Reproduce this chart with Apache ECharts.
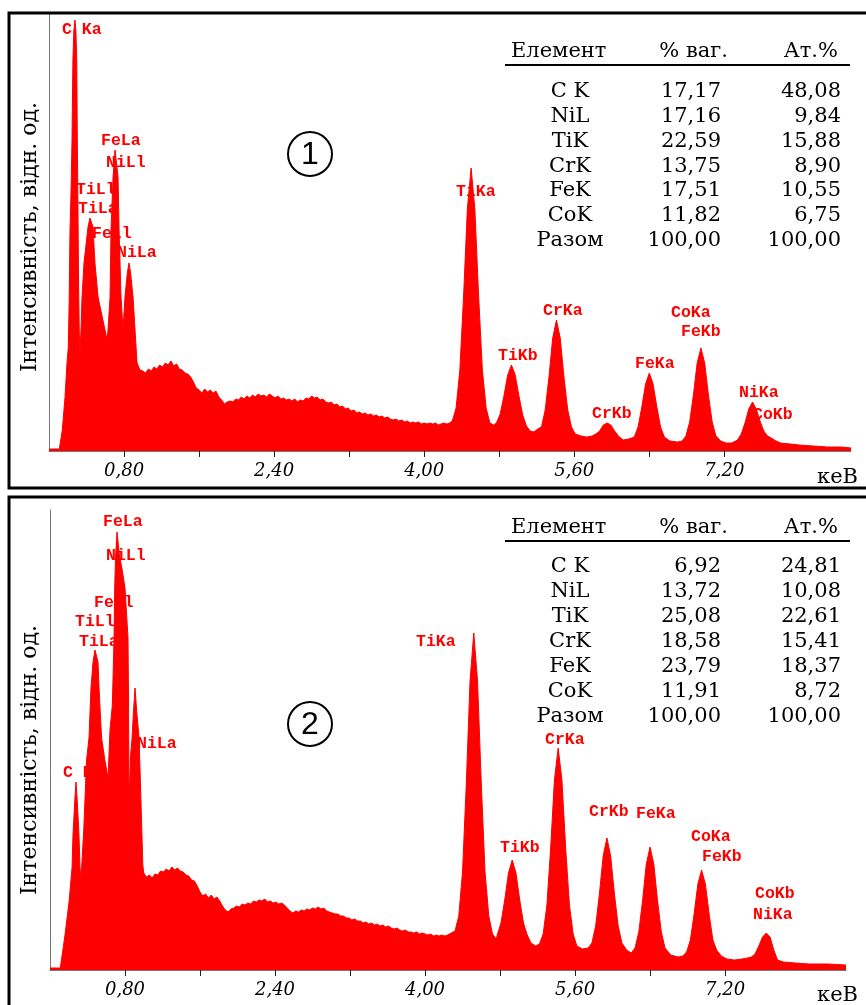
<!DOCTYPE html>
<html>
<head>
<meta charset="utf-8">
<script src="https://cdn.jsdelivr.net/npm/echarts@6.0.0/dist/echarts.min.js"></script>
<style>
html,body{margin:0;padding:0;background:#fff;}
#chart{width:866px;height:1005px;}
</style>
</head>
<body>
<div id="chart"></div>
<script>
// ---------- DATA ----------
// Spectrum 1: [energy keV, intensity (rel. units)]
const spectrum1 = [[0,2],[0.11,2],[0.13,4],[0.142,21],[0.171,54],[0.192,88],[0.206,104],[0.215,150],[0.224,221],[0.235,260],[0.245,308],[0.255,391],[0.265,420],[0.277,431],[0.287,420],[0.296,391],[0.302,308],[0.309,241],[0.315,170],[0.322,120],[0.33,98],[0.341,121],[0.352,154],[0.373,188],[0.416,224],[0.437,233],[0.469,224],[0.49,188],[0.523,154],[0.597,121],[0.62,111],[0.629,121],[0.651,154],[0.661,221],[0.683,274],[0.704,301],[0.736,274],[0.747,221],[0.768,154],[0.789,121],[0.80,121],[0.81,154],[0.835,178],[0.853,188],[0.87,178],[0.896,154],[0.917,121],[0.928,104],[0.939,88],[0.97,81],
[1.00,80],[1.03,78],[1.06,82],[1.09,80],[1.12,84],[1.15,82],[1.18,86],[1.21,84],[1.24,88],[1.27,86],[1.30,90],[1.33,85],[1.36,87],[1.39,82],[1.42,81],[1.45,78],[1.48,77],[1.51,74],[1.54,69],[1.57,63],[1.60,61],[1.63,58],[1.66,62],[1.69,59],[1.72,61],[1.75,58],[1.78,60],[1.81,54],[1.84,51],[1.87,47],[1.90,49],[1.93,50],[1.96,49],[1.99,52],[2.02,51],[2.05,54],[2.08,52],[2.11,55],[2.14,53],[2.17,56],[2.20,54],[2.23,57],[2.26,55],[2.29,56],[2.32,54],[2.35,57],[2.38,55],[2.41,53],[2.44,55],[2.47,52],[2.50,53],[2.53,51],[2.56,52],[2.59,50],[2.62,52],[2.65,49],[2.68,51],[2.71,50],[2.74,53],[2.77,52],[2.80,55],[2.83,53],[2.86,54],[2.89,51],[2.92,52],[2.95,49],[2.98,48],[3.01,49],[3.04,46],[3.07,47],[3.10,44],[3.13,45],[3.16,42],[3.19,43],[3.22,40],[3.25,41],[3.28,38],[3.31,39],[3.34,37],[3.37,38],[3.40,36],[3.43,37],[3.46,35],[3.49,36],[3.52,34],[3.55,35],[3.58,33],[3.61,34],[3.64,32],[3.67,31],[3.70,32],[3.73,30],[3.76,31],[3.79,29],[3.82,30],[3.85,28],[3.88,29],[3.91,28],[3.94,29],[3.97,27],[4.00,28],[4.03,27],[4.06,28],[4.09,27],[4.12,28],[4.15,26],[4.18,27],[4.21,28],[4.24,27],[4.27,28],[4.30,30],
[4.34,43],[4.38,81],[4.42,155],[4.46,242],[4.50,283],[4.54,242],[4.58,155],[4.62,81],[4.66,43],[4.70,28],[4.74,26],[4.77,28],[4.81,37],[4.85,55],[4.89,76],[4.93,86],[4.97,76],[5.01,55],[5.05,36],[5.09,25],[5.13,20],[5.17,19],[5.21,22],[5.25,24],[5.29,41],[5.33,74],[5.37,113],[5.41,131],[5.45,113],[5.49,74],[5.53,41],[5.57,24],[5.61,17],[5.67,15],[5.73,14],[5.79,15],[5.83,17],[5.87,20],[5.91,26],[5.95,28],[5.99,26],[6.03,20],[6.07,15],[6.12,11],[6.18,12],[6.24,14],[6.28,24],[6.32,44],[6.36,67],[6.40,78],[6.44,67],[6.48,44],[6.52,24],[6.56,14],[6.62,10],[6.70,9],[6.75,10],[6.79,15],[6.83,29],[6.87,56],[6.91,88],[6.95,103],[6.99,88],[7.03,56],[7.07,29],[7.11,15],[7.16,10],[7.22,8],[7.28,8],[7.34,11],[7.38,17],[7.42,28],[7.46,42],[7.50,49],[7.54,42],[7.58,30],[7.62,20],[7.66,15],[7.70,13],[7.75,10],[7.80,8],[7.90,7],[8.00,6],[8.15,5],[8.30,4],[8.45,4],[8.55,3]];

// Spectrum 2
const spectrum2 = [[0,2],[0.11,2],[0.13,4],[0.16,35],[0.203,68],[0.235,102],[0.245,135],[0.265,170],[0.277,188],[0.29,170],[0.309,135],[0.32,102],[0.331,92],[0.36,140],[0.39,210],[0.416,232],[0.437,282],[0.459,308],[0.48,320],[0.512,308],[0.523,282],[0.55,232],[0.585,210],[0.619,192],[0.64,240],[0.665,265],[0.683,332],[0.69,382],[0.70,415],[0.715,438],[0.74,415],[0.77,400],[0.80,382],[0.832,332],[0.838,265],[0.843,170],[0.86,215],[0.875,232],[0.89,258],[0.907,282],[0.925,258],[0.95,232],[0.97,170],[0.99,105],
[1.00,97],[1.03,93],[1.06,95],[1.09,92],[1.12,96],[1.15,95],[1.18,99],[1.21,98],[1.24,101],[1.27,99],[1.30,103],[1.33,100],[1.36,102],[1.39,99],[1.42,98],[1.45,95],[1.48,94],[1.51,90],[1.54,89],[1.57,84],[1.60,78],[1.63,74],[1.66,76],[1.69,72],[1.72,75],[1.75,71],[1.78,73],[1.81,69],[1.84,64],[1.87,60],[1.90,58],[1.93,61],[1.96,62],[1.99,64],[2.02,63],[2.05,66],[2.08,65],[2.11,67],[2.14,66],[2.17,69],[2.20,68],[2.23,70],[2.26,69],[2.29,71],[2.32,68],[2.35,69],[2.38,67],[2.41,68],[2.44,66],[2.47,67],[2.50,65],[2.53,62],[2.56,59],[2.59,57],[2.62,59],[2.65,58],[2.68,60],[2.71,59],[2.74,61],[2.77,60],[2.80,62],[2.83,61],[2.86,63],[2.89,61],[2.92,62],[2.95,59],[2.98,58],[3.01,57],[3.04,56],[3.07,56],[3.10,54],[3.13,54],[3.16,52],[3.19,52],[3.22,50],[3.25,51],[3.28,49],[3.31,49],[3.34,47],[3.37,48],[3.40,46],[3.43,47],[3.46,45],[3.49,46],[3.52,44],[3.55,45],[3.58,43],[3.61,44],[3.64,42],[3.67,41],[3.70,42],[3.73,40],[3.76,39],[3.79,40],[3.82,38],[3.85,38],[3.88,37],[3.91,38],[3.94,36],[3.97,37],[4.00,36],[4.03,35],[4.06,36],[4.09,34],[4.12,35],[4.15,34],[4.18,35],[4.21,34],[4.24,35],[4.28,37],[4.32,39],
[4.36,54],[4.40,98],[4.44,186],[4.48,289],[4.52,337],[4.56,289],[4.60,186],[4.64,98],[4.68,54],[4.72,36],[4.76,31],[4.77,35],[4.81,47],[4.85,70],[4.89,97],[4.93,110],[4.97,97],[5.01,70],[5.05,47],[5.09,35],[5.13,27],[5.18,24],[5.22,26],[5.26,36],[5.30,65],[5.34,122],[5.38,190],[5.42,222],[5.46,190],[5.50,122],[5.54,65],[5.58,36],[5.62,24],[5.68,21],[5.74,22],[5.78,27],[5.82,44],[5.86,76],[5.90,114],[5.94,132],[5.98,114],[6.02,76],[6.06,44],[6.10,27],[6.15,20],[6.20,17],[6.24,22],[6.28,38],[6.32,69],[6.36,106],[6.40,123],[6.44,106],[6.48,69],[6.52,38],[6.56,22],[6.62,15],[6.70,13],[6.75,14],[6.79,18],[6.83,30],[6.87,56],[6.91,86],[6.95,100],[6.99,86],[7.03,56],[7.07,30],[7.11,20],[7.16,14],[7.22,11],[7.30,10],[7.38,11],[7.44,12],[7.48,13],[7.52,16],[7.56,24],[7.60,33],[7.64,37],[7.68,33],[7.72,20],[7.76,10],[7.82,8],[7.95,7],[8.10,6],[8.30,6],[8.49,5]];

const tickValues = [0.8, 1.6, 2.4, 3.2, 4.0, 4.8, 5.6, 6.4, 7.2];
const tickLabels = [0.8, 2.4, 4.0, 5.6, 7.2];
const xUnit = 'кеВ';
const yTitle = 'Інтенсивність, відн. од.';

const peakNames1 = ['C Ka','FeLa','NiLl','TiLl','TiLa','FeLl','NiLa','TiKa','TiKb','CrKa','CrKb','FeKa','CoKa','FeKb','NiKa','CoKb'];
const peakNames2 = ['FeLa','NiLl','FeLl','TiLl','TiLa','NiLa','C Ka','TiKa','CrKa','TiKb','CrKb','FeKa','CoKa','FeKb','CoKb','NiKa'];

const tableHeader = ['Елемент', '% ваг.', 'Ат.%'];
const elements = ['C K', 'NiL', 'TiK', 'CrK', 'FeK', 'CoK', 'Разом'];
const wt1 = ['17,17', '17,16', '22,59', '13,75', '17,51', '11,82', '100,00'];
const at1 = ['48,08', '9,84', '15,88', '8,90', '10,55', '6,75', '100,00'];
const wt2 = ['6,92', '13,72', '25,08', '18,58', '23,79', '11,91', '100,00'];
const at2 = ['24,81', '10,08', '22,61', '15,41', '18,37', '8,72', '100,00'];
const panelNumbers = ['1', '2'];

// ---------- LAYOUT (pixel positions of annotations) ----------
const peakPos1 = [[62,30],[101,141],[106,163],[76,190],[78,209],[92,234],[117,253],[456,192],[498,356],[543,311],[592,414],[635,364],[671,313],[681,332],[739,393],[753,415]];
const peakPos2 = [[103,522],[106,556],[94,603],[75,622],[79,642],[137,744],[63,773],[416,642],[545,740],[500,848],[589,812],[636,814],[691,837],[702,857],[755,894],[753,915]];

const chart = echarts.init(document.getElementById('chart'), null, {renderer: 'canvas'});

const RED = '#ff0000';
const serif = '"DejaVu Serif", "Liberation Serif", serif';
const mono = '"Liberation Mono", "Courier New", monospace';

function xAxisCfg(gi, max) {
  return {
    gridIndex: gi, type: 'value', min: 0, max: max, interval: 0.8,
    axisLine: {show: true, onZero: false, lineStyle: {color: '#777', width: 1}},
    axisTick: {show: true, length: 6, customValues: tickValues, lineStyle: {color: '#222', width: 1}},
    axisLabel: {
      customValues: tickLabels, margin: 11,
      formatter: v => v.toFixed(2).replace('.', ','),
      fontFamily: serif, fontStyle: 'italic', fontSize: 18, color: '#000'
    },
    splitLine: {show: false}
  };
}
function yAxisCfg(gi, max) {
  return {
    gridIndex: gi, type: 'value', min: 0, max: max,
    axisLine: {show: true, lineStyle: {color: '#777', width: 1}},
    axisTick: {show: false}, axisLabel: {show: false}, splitLine: {show: false}
  };
}
function seriesCfg(i, data) {
  return {
    type: 'line', xAxisIndex: i, yAxisIndex: i, data: data,
    showSymbol: false, symbol: 'none', smooth: false, z: 3,
    lineStyle: {color: RED, width: 1},
    areaStyle: {color: RED, opacity: 1},
    silent: true
  };
}

const graphics = [];
// frames
graphics.push({type: 'rect', shape: {x: 9, y: 13, width: 870, height: 475}, style: {fill: null, stroke: '#000', lineWidth: 3}, z: 10});
graphics.push({type: 'rect', shape: {x: 9, y: 497, width: 870, height: 520}, style: {fill: null, stroke: '#000', lineWidth: 3}, z: 10});

function txt(x, y, text, font, fill, align, valign, extra) {
  return Object.assign({type: 'text', x: x, y: y, z: 1,
    style: {text: text, font: font, fill: fill, textAlign: align || 'left', textVerticalAlign: valign || 'middle'}}, extra || {});
}

// peak labels (drawn beneath the spectrum)
peakNames1.forEach((n, i) => graphics.push(txt(peakPos1[i][0], peakPos1[i][1], n, 'bold 16.5px ' + mono, RED)));
peakNames2.forEach((n, i) => graphics.push(txt(peakPos2[i][0], peakPos2[i][1], n, 'bold 16.5px ' + mono, RED)));

// axis titles
graphics.push(txt(30, 237, yTitle, '22px ' + serif, '#000', 'center', 'middle', {rotation: Math.PI / 2}));
graphics.push(txt(30, 760, yTitle, '22px ' + serif, '#000', 'center', 'middle', {rotation: Math.PI / 2}));
graphics.push(txt(858, 478, xUnit, '21px ' + serif, '#000', 'right'));
graphics.push(txt(858, 996, xUnit, '21px ' + serif, '#000', 'right'));

// circled numbers
[[310, 154], [310, 724]].forEach((c, i) => {
  graphics.push({type: 'circle', shape: {cx: c[0], cy: c[1], r: 22}, style: {fill: null, stroke: '#000', lineWidth: 2}, z: 5});
  graphics.push(txt(c[0], c[1] + 1, panelNumbers[i], '32px "Liberation Sans", Arial, sans-serif', '#000', 'center', 'middle', {z: 5}));
});

// tables
function table(headY, lineY, rowY0, rowStep, wt, at) {
  const f = '21px ' + serif;
  graphics.push(txt(511, headY, tableHeader[0], f, '#000', 'left', 'middle', {z: 5}));
  graphics.push(txt(728, headY, tableHeader[1], f, '#000', 'right', 'middle', {z: 5}));
  graphics.push(txt(838, headY, tableHeader[2], f, '#000', 'right', 'middle', {z: 5}));
  graphics.push({type: 'line', shape: {x1: 505, y1: lineY, x2: 850, y2: lineY}, style: {stroke: '#000', lineWidth: 2}, z: 5});
  elements.forEach((e, i) => {
    const y = rowY0 + i * rowStep;
    graphics.push(txt(570, y, e, f, '#000', 'center', 'middle', {z: 5}));
    graphics.push(txt(721, y, wt[i], f, '#000', 'right', 'middle', {z: 5}));
    graphics.push(txt(841, y, at[i], f, '#000', 'right', 'middle', {z: 5}));
  });
}
table(52, 65, 92, 24.7, wt1, at1);
table(528, 541, 567, 25, wt2, at2);

chart.setOption({
  animation: false,
  backgroundColor: '#fff',
  grid: [
    {left: 49, top: 14, width: 802, height: 437},
    {left: 50, top: 510, width: 796, height: 460}
  ],
  xAxis: [xAxisCfg(0, 8.55), xAxisCfg(1, 8.49)],
  yAxis: [yAxisCfg(0, 437), yAxisCfg(1, 460)],
  series: [seriesCfg(0, spectrum1), seriesCfg(1, spectrum2)],
  graphic: {elements: graphics}
});
</script>
</body>
</html>
